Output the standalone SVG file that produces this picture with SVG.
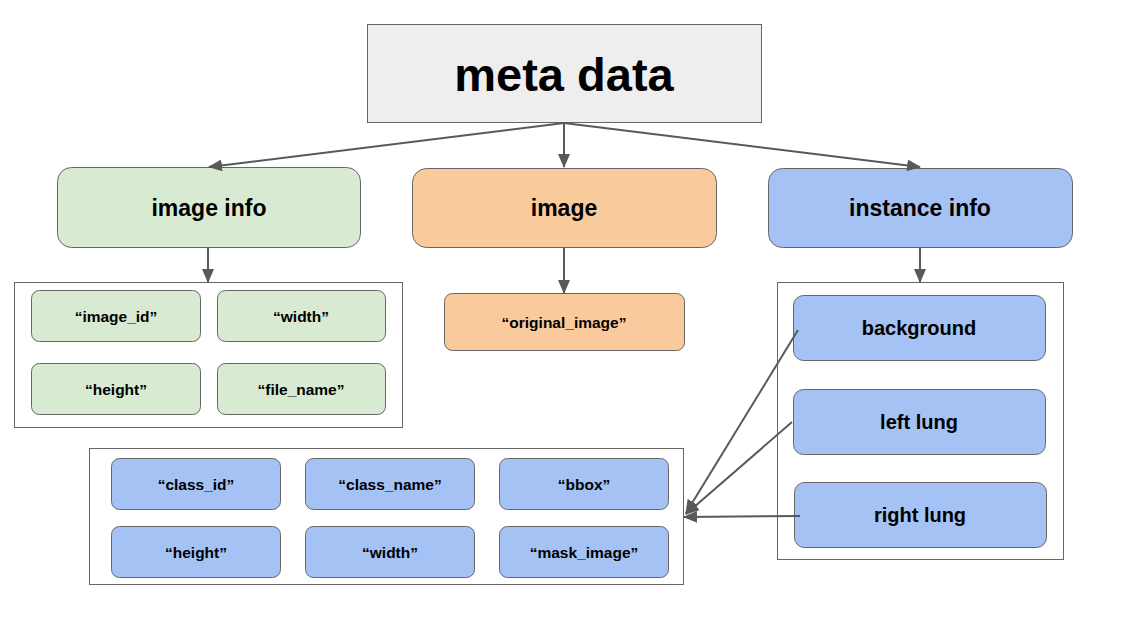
<svg xmlns="http://www.w3.org/2000/svg" width="1129" height="632" viewBox="0 0 1129 632">
<defs>
<marker id="ah" markerWidth="14" markerHeight="12" refX="13" refY="6" orient="auto" markerUnits="userSpaceOnUse" viewBox="0 0 14 12">
<path d="M0,0 L14,6 L0,12 z" fill="#595959"/>
</marker>
<style>
text{font-family:"Liberation Sans",Arial,sans-serif;font-weight:bold;fill:#000;text-anchor:middle;dominant-baseline:central}
.box{stroke:#666;stroke-width:1}
.g{fill:#d9ead3}.o{fill:#f9cb9c}.b{fill:#a4c2f4}
.cont{fill:#fff;stroke:#666;stroke-width:1}
.big{font-size:23px}.sm{font-size:15.5px}.md{font-size:20px}
.conn line{stroke:#595959;stroke-width:2;marker-end:url(#ah)}
</style>
</defs>
<rect width="1129" height="632" fill="#fff"/>
<g id="meta">
<rect x="367.5" y="24.5" width="394" height="98" fill="#eeeeee" stroke="#666"/>
<text x="564" y="74" style="font-size:47px">meta data</text>
</g>
<g id="imageinfo"><rect class="box g" x="57.5" y="167.5" width="303" height="80" rx="14"/><text class="big" x="209" y="208">image info</text></g>
<g id="image"><rect class="box o" x="412.5" y="168.5" width="304" height="79" rx="14"/><text class="big" x="564" y="208">image</text></g>
<g id="instanceinfo"><rect class="box b" x="768.5" y="168.5" width="304" height="79" rx="14"/><text class="big" x="920" y="208">instance info</text></g>
<g id="imageinfo-fields">
<rect class="cont" x="14.5" y="282.5" width="388" height="145"/>
<rect class="box g" x="31.5" y="290.5" width="169" height="51" rx="8"/><text class="sm" x="116" y="316">“image_id”</text>
<rect class="box g" x="217.5" y="290.5" width="168" height="51" rx="8"/><text class="sm" x="301" y="316">“width”</text>
<rect class="box g" x="31.5" y="363.5" width="169" height="51" rx="8"/><text class="sm" x="116" y="389">“height”</text>
<rect class="box g" x="217.5" y="363.5" width="168" height="51" rx="8"/><text class="sm" x="301" y="389">“file_name”</text>
</g>
<g id="original"><rect class="box o" x="444.5" y="293.5" width="240" height="57" rx="8"/><text class="sm" x="564" y="322">“original_image”</text></g>
<g id="instances">
<rect class="cont" x="777.5" y="282.5" width="286" height="277"/>
<rect class="box b" x="793.5" y="295.5" width="252" height="65" rx="10"/><text class="md" x="919" y="328">background</text>
<rect class="box b" x="793.5" y="389.5" width="252" height="65" rx="10"/><text class="md" x="919" y="422">left lung</text>
<rect class="box b" x="794.5" y="482.5" width="252" height="65" rx="10"/><text class="md" x="920" y="515">right lung</text>
</g>
<g id="instance-fields">
<rect class="cont" x="89.5" y="448.5" width="594" height="136"/>
<rect class="box b" x="111.5" y="458.5" width="169" height="51" rx="8"/><text class="sm" x="196" y="484">“class_id”</text>
<rect class="box b" x="305.5" y="458.5" width="169" height="51" rx="8"/><text class="sm" x="390" y="484">“class_name”</text>
<rect class="box b" x="499.5" y="458.5" width="169" height="51" rx="8"/><text class="sm" x="584" y="484">“bbox”</text>
<rect class="box b" x="111.5" y="526.5" width="169" height="51" rx="8"/><text class="sm" x="196" y="552">“height”</text>
<rect class="box b" x="305.5" y="526.5" width="169" height="51" rx="8"/><text class="sm" x="390" y="552">“width”</text>
<rect class="box b" x="499.5" y="526.5" width="169" height="51" rx="8"/><text class="sm" x="584" y="552">“mask_image”</text>
</g>
<g id="connectors" class="conn">
<line x1="564" y1="123" x2="209" y2="167"/>
<line x1="564" y1="123" x2="564" y2="167"/>
<line x1="564" y1="123" x2="920" y2="167"/>
<line x1="208" y1="248" x2="208" y2="282"/>
<line x1="564" y1="248" x2="564" y2="293"/>
<line x1="920" y1="248" x2="920" y2="282"/>
<line x1="798" y1="330" x2="686" y2="513"/>
<line x1="792" y1="422" x2="686" y2="514"/>
<line x1="800" y1="516" x2="684" y2="517"/>
</g>
</svg>
